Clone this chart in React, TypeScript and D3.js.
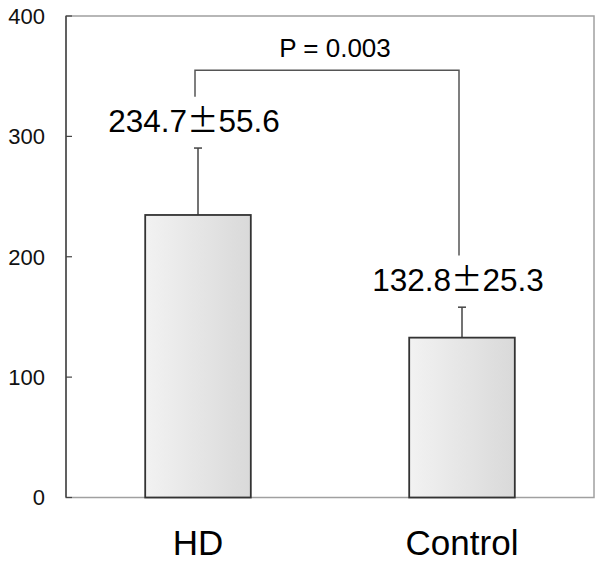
import React from "react";
import * as d3 from "d3";

const categories = ["HD", "Control"];
const means = [234.7, 132.8];
const sds = [55.6, 25.3];
const yTicks = [0, 100, 200, 300, 400];
const pLabel = "P = 0.003";
// bracket values in data units: [top, left leg end, right leg end]
const bracketValues = [355, 333, 201];

const W = 600;
const H = 567;
const margin = { left: 66, right: 6, top: 16, bottom: 69.5 };

export default function App() {
  const x = d3
    .scaleBand<string>()
    .domain(categories)
    .range([margin.left, W - margin.right])
    .paddingInner(0.6)
    .paddingOuter(0.3);
  const y = d3.scaleLinear().domain([0, 400]).range([H - margin.bottom, margin.top]);
  const font = "'Liberation Sans', Arial, sans-serif";
  const cx = (c: string) => (x(c) as number) + x.bandwidth() / 2;

  return (
    <svg
      width={W}
      height={H}
      style={{ position: "absolute", left: 0, top: 0, background: "#fff" }}
    >
      <defs>
        <linearGradient id="barGrad" x1="0" x2="1" y1="0" y2="0">
          <stop offset="0%" stopColor="#f2f2f2" />
          <stop offset="100%" stopColor="#d9d9d9" />
        </linearGradient>
      </defs>
      {/* frame */}
      <rect
        x={margin.left}
        y={y(400)}
        width={W - margin.right - margin.left}
        height={y(0) - y(400)}
        fill="none"
        stroke="#a0a0a0"
        strokeWidth={1.5}
      />
      <line x1={margin.left} x2={margin.left} y1={y(400)} y2={y(0)} stroke="#444" strokeWidth={1.5} />
      {yTicks.map((t) => (
        <g key={t}>
          <line x1={margin.left} x2={margin.left + 6} y1={y(t)} y2={y(t)} stroke="#444" strokeWidth={1.2} />
          <text
            x={margin.left - 21}
            y={y(t)}
            dy="0.36em"
            textAnchor="end"
            fontFamily={font}
            fontSize={22}
            fill="#111"
          >
            {t}
          </text>
        </g>
      ))}
      {categories.map((c, i) => {
        const top = y(means[i] + sds[i]);
        return (
          <g key={c}>
            <line x1={cx(c)} x2={cx(c)} y1={y(means[i])} y2={top} stroke="#444" strokeWidth={1.5} />
            <line x1={cx(c) - 4} x2={cx(c) + 4} y1={top} y2={top} stroke="#444" strokeWidth={1.5} />
            <rect
              x={x(c)}
              y={y(means[i])}
              width={x.bandwidth()}
              height={y(0) - y(means[i])}
              fill="url(#barGrad)"
              stroke="#333"
              strokeWidth={1.8}
            />
            <text
              x={cx(c) - 4}
              y={top - 16}
              textAnchor="middle"
              fontFamily={font}
              fontSize={31.5}
              fill="#000"
            >
              {means[i].toFixed(1)}
              <tspan fontFamily="'Noto Sans CJK JP', sans-serif">±</tspan>
              {sds[i].toFixed(1)}
            </text>
            <text
              x={cx(c)}
              y={555}
              textAnchor="middle"
              fontFamily={font}
              fontSize={35}
              fill="#000"
            >
              {c}
            </text>
          </g>
        );
      })}
      {/* significance bracket */}
      <path
        d={`M${cx(categories[0]) - 3},${y(bracketValues[1])}V${y(bracketValues[0])}H${cx(categories[1]) - 3}V${y(bracketValues[2])}`}
        fill="none"
        stroke="#555"
        strokeWidth={1.5}
      />
      <text
        x={(cx(categories[0]) + cx(categories[1])) / 2 + 5}
        y={56.5}
        textAnchor="middle"
        fontFamily={font}
        fontSize={26}
        fill="#000"
      >
        {pLabel}
      </text>
    </svg>
  );
}
